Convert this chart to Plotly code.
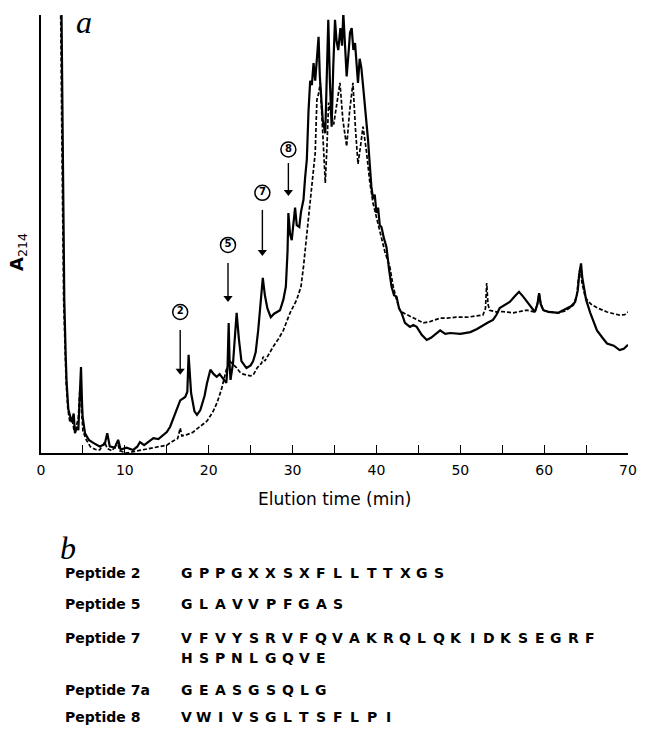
import plotly.graph_objects as go

# ---------------- data ----------------
solid_t = [2.2, 2.45, 2.6, 2.78, 2.95, 3.06, 3.26, 3.5, 3.66, 3.9, 4.05, 4.3, 4.45, 4.6, 4.77, 4.9, 4.97,
           5.25, 5.7, 6.24, 7.0, 7.6, 7.9, 8.2, 8.8, 9.2, 9.5, 10.2, 11.0, 11.5, 11.8, 12.3, 12.8, 13.4,
           14.0, 14.6, 15.0, 15.4, 16.0, 16.6, 17.2, 17.45, 17.6, 17.75, 17.9, 18.3, 18.6, 19.0, 19.5,
           19.8, 20.2, 20.6, 20.95, 21.3, 21.7, 22.1, 22.25, 22.38, 22.5, 22.6, 22.9, 23.1, 23.33, 23.6,
           23.9, 24.5, 25.0, 25.3, 25.6, 25.9, 26.2, 26.45, 26.7, 27.0, 27.4, 27.8, 28.5, 28.9, 29.2,
           29.4, 29.5, 29.7, 29.9, 30.1, 30.3, 30.5, 30.8, 31.0, 31.3, 31.5, 31.7, 31.9, 32.1, 32.3,
           32.5, 32.7, 32.9, 33.1, 33.25, 33.4, 33.6, 33.9, 34.1, 34.26, 34.45, 34.66, 34.85, 35.06,
           35.25, 35.45, 35.7, 35.9, 36.05, 36.25, 36.45, 36.7, 36.85, 37.05, 37.25, 37.45, 37.6, 37.8,
           38.0, 38.2, 38.4, 38.6, 38.8, 39.0, 39.2, 39.4, 39.6, 39.8, 40.0, 40.2, 40.4, 40.6, 40.9,
           41.2, 41.5, 41.8, 42.1, 42.4, 42.7, 43.0, 43.4, 44.0, 44.4, 44.8, 45.4, 46.0, 46.5, 47.1,
           47.6, 48.2, 48.8, 50.0, 51.2, 52.0, 52.7, 53.3, 53.9, 54.3, 54.7, 55.3, 55.9, 56.5, 57.0,
           57.5, 58.1, 58.6, 58.9, 59.2, 59.4, 59.6, 59.9, 60.5, 61.0, 61.7, 62.5, 63.2, 63.7, 64.0,
           64.2, 64.4, 64.55, 64.75, 65.0, 65.5, 66.3, 67.0, 67.5, 68.3, 69.0, 69.5, 70.0]
solid_a = [130, 100, 70, 35, 22, 16, 10, 8, 7, 9, 4.5, 6, 5.2, 12, 19.6, 11, 8.2,
           4.5, 3, 2.3, 1.5, 2, 4.5, 1.5, 1.2, 3, 0.8, 1.2, 0.7, 1.5, 2.5, 1.8, 2.6, 3.4,
           3.2, 4.1, 4.8, 6, 9, 12, 12.8, 14, 22.4, 17, 13.7, 9.5, 8.7, 9.8, 13,
           16, 19, 18, 17.4, 18, 17, 16, 20, 29.7, 20, 16.7, 20.5, 26, 32, 26,
           21, 19.4, 20, 21, 23, 28, 35, 40, 36, 33, 31, 31.8, 32.6, 35, 38,
           46, 54.8, 50, 48.6, 53, 56, 52, 51.6, 55, 57.8, 63, 67, 78, 85, 84,
           89, 85, 91, 95, 86, 80.6, 76, 73, 88, 98.9, 85, 74.5, 88, 98.9,
           94, 92, 97, 93, 100.5, 92, 86, 92, 96, 97, 92, 93.6, 89, 84.5,
           90, 88, 84, 80, 76, 71.5, 66, 60.8, 58, 59, 54.8, 56, 52, 51.6, 49,
           47, 42, 38, 36, 35.7, 33, 32, 29.7, 28.8, 29.2, 28.8, 27, 25.8, 26.3, 27.3,
           28, 27.2, 27.4, 27.2, 27.6, 28.3, 29.2, 29.8, 30.4, 31.5, 33.1, 33.8, 34.5, 35.8, 36.8,
           35.7, 34.2, 32.8, 32.2, 34, 36.5, 34, 32.6, 32.2, 32.1, 32, 32.8, 33.5, 34.5, 37,
           41, 43.3, 40, 37.5, 35, 32, 28, 26.2, 25, 24.5, 23.5, 23.8, 24.7]

dashed_t = [2.1, 2.35, 2.5, 2.7, 2.9, 3.0, 3.2, 3.45, 3.7, 3.95, 4.2, 4.45, 4.65, 4.8, 5.0, 5.4, 5.9,
            6.5, 7.0, 7.6, 7.9, 8.5, 9.1, 9.4, 10.2, 11.0, 11.8, 12.6, 13.4, 14.2, 15.0, 15.8, 16.3,
            16.6, 16.8, 17.4, 18.1, 18.6, 19.2, 19.8, 20.5, 21.0, 21.5, 21.8, 22.1, 22.5, 22.8, 23.3,
            23.7, 24.1, 24.5, 25.0, 25.3, 25.8, 26.3, 26.5, 26.7, 27.2, 27.7, 28.3, 28.9, 29.7, 30.5,
            31.0, 31.3, 31.7, 32.1, 32.4, 32.7, 32.9, 33.1, 33.3, 33.6, 33.9, 34.1, 34.3, 34.6, 34.9,
            35.3, 35.65, 36.0, 36.45, 36.8, 37.2, 37.5, 37.8, 38.1, 38.4, 38.8, 39.2, 39.6, 40.0, 40.5,
            41.0, 41.6, 42.0, 42.4, 42.8, 43.2, 44.0, 44.8, 45.6, 46.4, 47.6, 48.4, 49.5, 50.8, 51.8,
            52.7, 53.0, 53.15, 53.3, 53.5, 54.3, 55.0, 56.3, 57.2, 57.9, 58.9, 59.2, 59.4, 59.6, 59.9,
            60.8, 61.7, 62.6, 63.5, 63.9, 64.1, 64.3, 64.5, 64.9, 65.3, 65.7, 66.5, 67.5, 68.3, 69.0,
            69.6, 70.0]
dashed_a = [130, 100, 70, 35, 22, 16, 10, 7, 8, 5, 6, 8, 15, 10, 5, 3, 1.4,
            0.8, 0.7, 2.5, 1, 0.5, 2.5, 0.5, 0, 0.3, 0.6, 0.8, 1.1, 1.5, 1.8, 2.8, 3.3,
            5.7, 3.9, 4.2, 4.7, 5.5, 6.3, 7.3, 9.4, 11.5, 14.4, 16.5, 19, 21, 20.5, 19.5,
            18.5, 18.0, 17.8, 17.6, 17.8, 19.5, 20.5, 22, 21, 22.8, 24.3, 26, 28, 32, 35,
            38, 42.5, 50, 57.8, 63, 68.5, 80.6, 82, 84.5, 72, 61.6, 70, 80, 77, 75,
            80, 84.5, 76, 70, 78, 84.5, 74, 66, 70, 74.5, 69, 62, 57, 54, 50,
            46, 42.5, 38, 35, 32.6, 32, 31.2, 30.4, 29.7, 30, 30.8, 30.8, 31, 31, 31.2,
            31.5, 33, 38.8, 34, 32.6, 32.2, 32.3, 32, 32.3, 32.6, 32.2, 34, 36.5, 34, 32.6,
            32.2, 32, 32.5, 33.8, 36, 40, 42.5, 39, 35.6, 34.5, 33.8, 33, 32.2, 31.8, 31.5,
            31.6, 32.2]

peak_labels = ["2", "5", "7", "8"]
peak_times = [16.6, 22.3, 26.4, 29.5]
arrow_tip = [17.6, 34.2, 44.7, 58.4]
arrow_tail = [28.1, 43.4, 55.5, 66.2]
circle_level = [32.2, 47.5, 59.4, 69.3]

x_tick_vals = [0, 10, 20, 30, 40, 50, 60, 70]
x_tick_text = ["0", "10", "20", "30", "40", "50", "60", "70"]

peptide_names = ["Peptide 2", "Peptide 5", "Peptide 7", "", "Peptide 7a", "Peptide 8"]
peptide_seqs = ["GPPGXXSXFLLTTXGS", "GLAVVPFGAS", "VFVYSRVFQVAKRQLQKIDKSEGRF",
                "HSPNLGQVE", "GEASGSQLG", "VWIVSGLTSFLPI"]

# ---------------- layout geometry ----------------
W, H = 650, 733
L, R, T, B = 41, 22, 15, 280
PW, PH = W - L - R, H - T - B


def px_x(px):
    return (px - L) / PW


def px_y(py):
    return (H - B - py) / PH


fig = go.Figure()
fig.add_trace(go.Scatter(x=dashed_t, y=dashed_a, mode="lines",
                         line=dict(color="black", width=1.7, dash="4px,2px"),
                         showlegend=False, hoverinfo="skip"))
fig.add_trace(go.Scatter(x=solid_t, y=solid_a, mode="lines",
                         line=dict(color="black", width=2.2),
                         showlegend=False, hoverinfo="skip"))
# arrows drawn as line segments + triangle heads
for t, tip, tail in zip(peak_times, arrow_tip, arrow_tail):
    fig.add_trace(go.Scatter(x=[t, t], y=[tail, tip + 1.5], mode="lines",
                             line=dict(color="black", width=1.4),
                             showlegend=False, hoverinfo="skip"))
fig.add_trace(go.Scatter(x=peak_times, y=[v + 1.2 for v in arrow_tip], mode="markers",
                         marker=dict(symbol="triangle-down", size=8, color="black",
                                     line=dict(width=0)),
                         showlegend=False, hoverinfo="skip"))
fig.add_trace(go.Scatter(x=peak_times, y=circle_level, mode="markers+text",
                         text=["<b>%s</b>" % s for s in peak_labels], textposition="middle center",
                         textfont=dict(family="DejaVu Sans", size=10, color="black"),
                         marker=dict(symbol="circle-open", size=15, color="black",
                                     line=dict(width=1.5, color="black")),
                         cliponaxis=False, showlegend=False, hoverinfo="skip"))

ann = []
ann.append(dict(x=px_x(84), y=px_y(22), xref="paper", yref="paper", text="<i>a</i>",
                showarrow=False, font=dict(family="Liberation Serif", size=32, color="black"),
                xanchor="center", yanchor="middle"))
ann.append(dict(x=px_x(68), y=px_y(548), xref="paper", yref="paper", text="<i>b</i>",
                showarrow=False, font=dict(family="Liberation Serif", size=32, color="black"),
                xanchor="center", yanchor="middle"))
ann.append(dict(x=px_x(18), y=px_y(252), xref="paper", yref="paper",
                text="<b>A</b><sub>214</sub>", textangle=-90, showarrow=False,
                font=dict(family="DejaVu Sans", size=18, color="black"),
                xanchor="center", yanchor="middle"))
ann.append(dict(x=px_x(335), y=px_y(499), xref="paper", yref="paper",
                text="Elution time (min)", showarrow=False,
                font=dict(family="DejaVu Sans", size=17, color="black"),
                xanchor="center", yanchor="middle"))

row_y = [573, 604, 638, 658, 690, 717]
for name, seq, ry in zip(peptide_names, peptide_seqs, row_y):
    if name:
        ann.append(dict(x=px_x(63), y=px_y(ry), xref="paper", yref="paper",
                        text="<b>%s</b>" % name, showarrow=False,
                        font=dict(family="DejaVu Sans", size=14, color="black"),
                        xanchor="left", yanchor="middle"))
    for i, ch in enumerate(seq):
        ann.append(dict(x=px_x(186.7 + 16.8 * i), y=px_y(ry), xref="paper", yref="paper",
                        text="<b>%s</b>" % ch, showarrow=False,
                        font=dict(family="DejaVu Sans", size=14, color="black"),
                        xanchor="center", yanchor="middle"))

fig.update_layout(
    width=W, height=H,
    margin=dict(l=L, r=R, t=T, b=B, pad=0),
    paper_bgcolor="white", plot_bgcolor="white",
    annotations=ann,
    xaxis=dict(range=[0, 70], tickvals=x_tick_vals, ticktext=x_tick_text,
               ticks="inside", ticklen=8, tickwidth=1.3, tickcolor="black",
               minor=dict(dtick=5, tick0=0, ticks="inside", ticklen=8, tickwidth=1.3,
                          tickcolor="black", showgrid=False),
               showline=True, linecolor="black", linewidth=2, mirror=False,
               showgrid=False, zeroline=False,
               tickfont=dict(family="DejaVu Sans", size=14, color="black"),
               ticklabelstandoff=3),
    yaxis=dict(range=[0, 100], showticklabels=False, ticks="",
               showline=True, linecolor="black", linewidth=2,
               showgrid=False, zeroline=False),
)

fig.write_html("out.html")
